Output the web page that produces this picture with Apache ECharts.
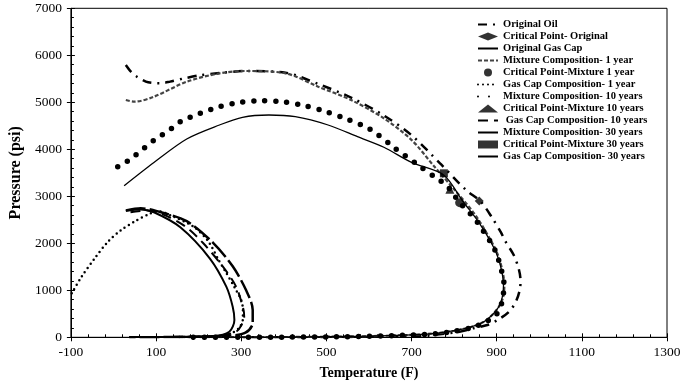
<!DOCTYPE html>
<html>
<head>
<meta charset="utf-8">
<script src="https://cdn.jsdelivr.net/npm/echarts@6/dist/echarts.min.js"></script>
<style>
  html, body { margin: 0; padding: 0; background: #fff; }
  #chart { width: 685px; height: 386px; }
</style>
</head>
<body>
<div id="chart"></div>
<script>
// [temperature F, pressure psi]
var origOil = [[29,5794],[41,5651],[55,5545],[76,5440],[93,5410],[110,5405],[133,5440],[164,5505],[200,5570],[250,5625],[311,5665],[404,5630],[481,5390],[558,5100],[635,4720],[700,4300],[767,3700],[828,3134],[863,2885],[890,2532],[909,2247],[921,2034],[940,1751],[952,1450],[956,1200],[954,1000],[945,757],[929,545],[902,368],[878,262],[844,190],[813,119],[751,49],[700,25],[600,10],[500,4],[400,2],[300,1]];
var origGasCap = [[29,2700],[64,2745],[100,2690],[172,2470],[234,2010],[280,1510],[311,1010],[327,580],[327,300],[310,100],[270,30],[200,10],[100,3],[37,0]];
var mix1 = [[29,5049],[49,5013],[95,5119],[172,5438],[249,5617],[311,5666],[404,5617],[481,5332],[558,5049],[635,4660],[700,4200],[752,3650],[800,3150],[850,2600],[890,2000],[905,1700],[915,1350],[918,1100],[915,850],[905,650],[890,480],[870,330],[840,220],[800,140],[750,80],[680,45],[600,25],[500,12],[400,6],[300,3],[200,1]];
var gasCap1 = [[-98,936],[-75,1290],[-44,1681],[-13,2034],[18,2283],[49,2460],[87,2638],[105,2680],[141,2566],[188,2353],[222,2050],[249,1609],[261,1432],[285,1050],[300,794],[304,581],[304,400],[295,200],[270,60],[220,15],[150,5]];
var mix10 = [[10,3630],[33,3751],[52,3879],[73,4034],[93,4177],[114,4304],[135,4432],[157,4587],[203,4766],[249,4906],[300,5000],[350,5034],[401,5006],[450,4928],[500,4800],[550,4638],[597,4453],[617,4340],[660,4030],[710,3700],[759,3383],[782,3240],[797,3064],[813,2864],[832,2687],[848,2532],[863,2340],[876,2155],[890,1964],[902,1715],[913,1362],[917,1149],[915,864],[909,651],[898,474],[875,332],[844,213],[800,130],[750,70],[674,40],[597,22],[519,10],[400,3],[300,1],[180,0]];
var gasCap10 = [[40,2660],[80,2700],[120,2600],[170,2350],[211,2000],[257,1502],[288,1077],[305,600],[307,438],[300,250],[288,119],[250,35],[180,12],[100,5]];
var mix30 = [[25,3226],[95,3720],[172,4220],[249,4517],[303,4681],[365,4730],[427,4694],[504,4517],[573,4268],[635,4043],[700,3720],[776,3450],[820,2900],[860,2420],[890,1964],[905,1650],[914,1300],[916,1100],[913,850],[905,650],[890,480],[870,330],[840,220],[800,140],[750,80],[680,45],[600,25],[500,12],[400,6],[300,3],[200,1]];
var gasCap30 = [[29,2690],[64,2720],[95,2660],[157,2340],[226,1681],[265,1077],[280,651],[284,368],[272,119],[234,28],[141,10],[37,5]];
var critOrig = [[859,2900]];
var crit1 = [[813,2864]];
var crit10 = [[790,3150]];
var crit30 = [[776,3489]];

var names = ['Original Oil', 'Critical Point- Original', 'Original Gas Cap',
  'Mixture Composition- 1 year', 'Critical Point-Mixture 1 year', 'Gas Cap Composition- 1 year',
  'Mixture Composition- 10 years', 'Critical Point-Mixture 10 years', ' Gas Cap Composition- 10 years',
  'Mixture Composition- 30 years', 'Critical Point-Mixture 30 years', 'Gas Cap Composition- 30 years'];
var pointNames = [names[1], names[4], names[7], names[10]];

var serif = 'Liberation Serif';

function curve(name, data, width, dash, color, cap) {
  return {
    name: name, type: 'line', data: data, symbol: 'none', smooth: 0.3,
    silent: true, animation: false,
    itemStyle: { color: '#000' },
    lineStyle: { color: color || '#000', width: width, type: dash, cap: cap || 'butt' }
  };
}
function point(name, data, shape, size) {
  return {
    name: name, type: 'scatter', data: data, symbol: shape, symbolSize: size,
    itemStyle: { color: '#000' }, animation: false, z: 5
  };
}

// legend: hide the little symbol drawn on top of the line icons
var legendData = names.map(function (n) {
  if (pointNames.indexOf(n) >= 0) return { name: n };
  return { name: n, itemStyle: { color: 'rgba(0,0,0,0)', borderWidth: 0 } };
});

var tickStyle = { color: '#000', width: 1 };

var chart = echarts.init(document.getElementById('chart'));
chart.setOption({
  backgroundColor: '#fff',
  grid: { left: 62.5, right: 18, top: 8.3, bottom: 48.7, show: true, borderColor: '#000', borderWidth: 1 },
  legend: {
    data: legendData, orient: 'vertical', left: 472, top: 14,
    itemWidth: 20, itemHeight: 8, itemGap: 1,
    textStyle: { fontFamily: serif, fontWeight: 'bold', fontSize: 10.5, color: '#000' },
    selectedMode: false
  },
  xAxis: [{
    type: 'value', min: -100, max: 1300, interval: 200,
    name: 'Temperature (F)', nameLocation: 'middle', nameGap: 29,
    nameTextStyle: { fontFamily: serif, fontWeight: 'bold', fontSize: 14, color: '#000' },
    axisLine: { onZero: false, lineStyle: { color: '#000' } },
    axisTick: { length: 4, lineStyle: tickStyle },
    axisLabel: { fontFamily: serif, fontSize: 13.5, color: '#000', margin: 8, formatter: function (v) { return String(v); } },
    splitLine: { show: false }
  }, {
    type: 'value', min: -100, max: 1300, interval: 200, position: 'bottom',
    axisLine: { show: false },
    axisTick: { inside: true, length: 4, lineStyle: tickStyle },
    minorTick: { show: true, splitNumber: 5, length: 3, lineStyle: tickStyle },
    axisLabel: { show: false },
    splitLine: { show: false }
  }],
  yAxis: [{
    type: 'value', min: 0, max: 7000, interval: 1000,
    name: 'Pressure (psi)', nameLocation: 'middle', nameGap: 46,
    nameTextStyle: { fontFamily: serif, fontWeight: 'bold', fontSize: 16, color: '#000' },
    axisLine: { show: true, onZero: false, lineStyle: { color: '#000' } },
    axisTick: { show: true, length: 4, lineStyle: tickStyle },
    axisLabel: { fontFamily: serif, fontSize: 13.5, color: '#000', margin: 9, formatter: function (v) { return String(v); } },
    splitLine: { show: false }
  }, {
    type: 'value', min: 0, max: 7000, interval: 1000, position: 'left',
    axisLine: { show: false, onZero: false },
    axisTick: { show: true, inside: true, length: 4, lineStyle: tickStyle },
    minorTick: { show: true, splitNumber: 5, length: 3, lineStyle: tickStyle },
    axisLabel: { show: false },
    splitLine: { show: false }
  }],
  series: [
    curve(names[0], origOil, 2.5, [9, 6, 2, 6]),
    point(names[1], critOrig, 'diamond', 9),
    curve(names[2], origGasCap, 2.5, [20, 4]),
    curve(names[3], mix1, 2.2, [4, 2], '#444'),
    point(names[4], crit1, 'circle', 9),
    curve(names[5], gasCap1, 2.5, [0, 5], '#000', 'round'),
    curve(names[6], mix10, 5.5, [0, 11], '#000', 'round'),
    point(names[7], crit10, 'triangle', 9),
    curve(names[8], gasCap10, 2, [10, 6]),
    curve(names[9], mix30, 1.3, 'solid'),
    point(names[10], crit30, 'rect', 8),
    curve(names[11], gasCap30, 2, 'solid')
  ]
});
</script>
</body>
</html>
